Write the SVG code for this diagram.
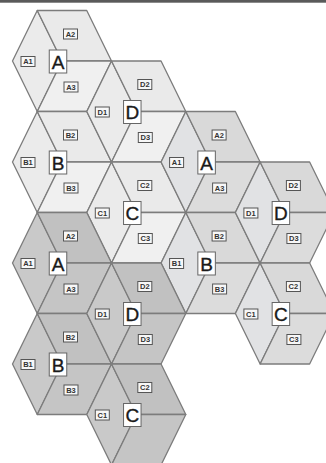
<svg xmlns="http://www.w3.org/2000/svg" xmlns:xlink="http://www.w3.org/1999/xlink" width="326" height="463" viewBox="0 0 326 463">
<style>
.sec{stroke:#7c7c7c;stroke-width:1.3;stroke-linejoin:round}
.top .s1{fill:#ebebeb}.top .s2{fill:#eaeaea}.top .s3{fill:#f0f0f0}
.mid .s1{fill:#e1e2e4}.mid .s2{fill:#d9d9d9}.mid .s3{fill:#dcdcdc}
.bot .s1{fill:#c9c9c9}.bot .s2{fill:#c1c1c1}.bot .s3{fill:#c5c5c5}
.big{fill:#fff;stroke:#666;stroke-width:1}
.bigt{font-family:"Liberation Sans",Arial,sans-serif;font-size:19px;fill:#1a1a1a;stroke:#1a1a1a;stroke-width:0.35;text-anchor:middle}
.sm{fill:#f7f7f7;stroke:#555;stroke-width:1}
.smt{font-family:"Liberation Sans",Arial,sans-serif;font-size:7.5px;font-weight:bold;fill:#333;text-anchor:middle}
</style>
<defs>
<path id="p1" d="M0,0 L-24.75,50.5 L-49.5,0 L-24.75,-50.5 Z"/>
<path id="p2" d="M0,0 L-24.75,-50.5 L24.75,-50.5 L49.5,0 Z"/>
<path id="p3" d="M0,0 L49.5,0 L24.75,50.5 L-24.75,50.5 Z"/>
</defs>
<rect x="0" y="0" width="326" height="463" fill="#ffffff"/>
<rect x="0" y="0" width="326" height="2.7" fill="#5a5a5a"/>

<g id="cells">
<g id="cell-A-1" class="top" transform="translate(62,61)">
<use href="#p1" class="sec s1"/><use href="#p2" class="sec s2"/><use href="#p3" class="sec s3"/>
<rect class="big" x="-12.75" y="-11" width="17.5" height="23"/><text class="bigt" x="-4" y="7.5">A</text>
<rect class="sm" x="-41" y="-4.5" width="14" height="10"/><text class="smt" x="-34" y="3.2">A1</text>
<rect class="sm" x="1.5" y="-32" width="14" height="10"/><text class="smt" x="8.5" y="-24.3">A2</text>
<rect class="sm" x="2" y="21" width="14" height="10"/><text class="smt" x="9" y="28.7">A3</text>
</g>
<g id="cell-B-1" class="top" transform="translate(62,162)">
<use href="#p1" class="sec s1"/><use href="#p2" class="sec s2"/><use href="#p3" class="sec s3"/>
<rect class="big" x="-12.75" y="-11" width="17.5" height="23"/><text class="bigt" x="-4" y="7.5">B</text>
<rect class="sm" x="-41" y="-4.5" width="14" height="10"/><text class="smt" x="-34" y="3.2">B1</text>
<rect class="sm" x="1.5" y="-32" width="14" height="10"/><text class="smt" x="8.5" y="-24.3">B2</text>
<rect class="sm" x="2" y="21" width="14" height="10"/><text class="smt" x="9" y="28.7">B3</text>
</g>
<g id="cell-D-1" class="top" transform="translate(136.3,111.5)">
<use href="#p1" class="sec s1"/><use href="#p2" class="sec s2"/><use href="#p3" class="sec s3"/>
<rect class="big" x="-12.75" y="-11" width="17.5" height="23"/><text class="bigt" x="-4" y="7.5">D</text>
<rect class="sm" x="-41" y="-4.5" width="14" height="10"/><text class="smt" x="-34" y="3.2">D1</text>
<rect class="sm" x="1.5" y="-32" width="14" height="10"/><text class="smt" x="8.5" y="-24.3">D2</text>
<rect class="sm" x="2" y="21" width="14" height="10"/><text class="smt" x="9" y="28.7">D3</text>
</g>
<g id="cell-C-1" class="top" transform="translate(136.3,212.5)">
<use href="#p1" class="sec s1"/><use href="#p2" class="sec s2"/><use href="#p3" class="sec s3"/>
<rect class="big" x="-12.75" y="-11" width="17.5" height="23"/><text class="bigt" x="-4" y="7.5">C</text>
<rect class="sm" x="-41" y="-4.5" width="14" height="10"/><text class="smt" x="-34" y="3.2">C1</text>
<rect class="sm" x="1.5" y="-32" width="14" height="10"/><text class="smt" x="8.5" y="-24.3">C2</text>
<rect class="sm" x="2" y="21" width="14" height="10"/><text class="smt" x="9" y="28.7">C3</text>
</g>

<g id="cell-A-2" class="mid" transform="translate(210.6,162)">
<use href="#p1" class="sec s1"/><use href="#p2" class="sec s2"/><use href="#p3" class="sec s3"/>
<rect class="big" x="-12.75" y="-11" width="17.5" height="23"/><text class="bigt" x="-4" y="7.5">A</text>
<rect class="sm" x="-41" y="-4.5" width="14" height="10"/><text class="smt" x="-34" y="3.2">A1</text>
<rect class="sm" x="1.5" y="-32" width="14" height="10"/><text class="smt" x="8.5" y="-24.3">A2</text>
<rect class="sm" x="2" y="21" width="14" height="10"/><text class="smt" x="9" y="28.7">A3</text>
</g>
<g id="cell-B-2" class="mid" transform="translate(210.6,263)">
<use href="#p1" class="sec s1"/><use href="#p2" class="sec s2"/><use href="#p3" class="sec s3"/>
<rect class="big" x="-12.75" y="-11" width="17.5" height="23"/><text class="bigt" x="-4" y="7.5">B</text>
<rect class="sm" x="-41" y="-4.5" width="14" height="10"/><text class="smt" x="-34" y="3.2">B1</text>
<rect class="sm" x="1.5" y="-32" width="14" height="10"/><text class="smt" x="8.5" y="-24.3">B2</text>
<rect class="sm" x="2" y="21" width="14" height="10"/><text class="smt" x="9" y="28.7">B3</text>
</g>
<g id="cell-D-2" class="mid" transform="translate(284.9,212.5)">
<use href="#p1" class="sec s1"/><use href="#p2" class="sec s2"/><use href="#p3" class="sec s3"/>
<rect class="big" x="-12.75" y="-11" width="17.5" height="23"/><text class="bigt" x="-4" y="7.5">D</text>
<rect class="sm" x="-41" y="-4.5" width="14" height="10"/><text class="smt" x="-34" y="3.2">D1</text>
<rect class="sm" x="1.5" y="-32" width="14" height="10"/><text class="smt" x="8.5" y="-24.3">D2</text>
<rect class="sm" x="2" y="21" width="14" height="10"/><text class="smt" x="9" y="28.7">D3</text>
</g>
<g id="cell-C-2" class="mid" transform="translate(284.9,313.5)">
<use href="#p1" class="sec s1"/><use href="#p2" class="sec s2"/><use href="#p3" class="sec s3"/>
<rect class="big" x="-12.75" y="-11" width="17.5" height="23"/><text class="bigt" x="-4" y="7.5">C</text>
<rect class="sm" x="-41" y="-4.5" width="14" height="10"/><text class="smt" x="-34" y="3.2">C1</text>
<rect class="sm" x="1.5" y="-32" width="14" height="10"/><text class="smt" x="8.5" y="-24.3">C2</text>
<rect class="sm" x="2" y="21" width="14" height="10"/><text class="smt" x="9" y="28.7">C3</text>
</g>

<g id="cell-A-3" class="bot" transform="translate(62,263)">
<use href="#p1" class="sec s1"/><use href="#p2" class="sec s2"/><use href="#p3" class="sec s3"/>
<rect class="big" x="-12.75" y="-11" width="17.5" height="23"/><text class="bigt" x="-4" y="7.5">A</text>
<rect class="sm" x="-41" y="-4.5" width="14" height="10"/><text class="smt" x="-34" y="3.2">A1</text>
<rect class="sm" x="1.5" y="-32" width="14" height="10"/><text class="smt" x="8.5" y="-24.3">A2</text>
<rect class="sm" x="2" y="21" width="14" height="10"/><text class="smt" x="9" y="28.7">A3</text>
</g>
<g id="cell-B-3" class="bot" transform="translate(62,364)">
<use href="#p1" class="sec s1"/><use href="#p2" class="sec s2"/><use href="#p3" class="sec s3"/>
<rect class="big" x="-12.75" y="-11" width="17.5" height="23"/><text class="bigt" x="-4" y="7.5">B</text>
<rect class="sm" x="-41" y="-4.5" width="14" height="10"/><text class="smt" x="-34" y="3.2">B1</text>
<rect class="sm" x="1.5" y="-32" width="14" height="10"/><text class="smt" x="8.5" y="-24.3">B2</text>
<rect class="sm" x="2" y="21" width="14" height="10"/><text class="smt" x="9" y="28.7">B3</text>
</g>
<g id="cell-D-3" class="bot" transform="translate(136.3,313.5)">
<use href="#p1" class="sec s1"/><use href="#p2" class="sec s2"/><use href="#p3" class="sec s3"/>
<rect class="big" x="-12.75" y="-11" width="17.5" height="23"/><text class="bigt" x="-4" y="7.5">D</text>
<rect class="sm" x="-41" y="-4.5" width="14" height="10"/><text class="smt" x="-34" y="3.2">D1</text>
<rect class="sm" x="1.5" y="-32" width="14" height="10"/><text class="smt" x="8.5" y="-24.3">D2</text>
<rect class="sm" x="2" y="21" width="14" height="10"/><text class="smt" x="9" y="28.7">D3</text>
</g>
<g id="cell-C-3" class="bot" transform="translate(136.3,414.5)">
<use href="#p1" class="sec s1"/><use href="#p2" class="sec s2"/><use href="#p3" class="sec s3"/>
<rect class="big" x="-12.75" y="-11" width="17.5" height="23"/><text class="bigt" x="-4" y="7.5">C</text>
<rect class="sm" x="-41" y="-4.5" width="14" height="10"/><text class="smt" x="-34" y="3.2">C1</text>
<rect class="sm" x="1.5" y="-32" width="14" height="10"/><text class="smt" x="8.5" y="-24.3">C2</text>
</g>
</g>
<g id="connectors"></g>
</svg>
